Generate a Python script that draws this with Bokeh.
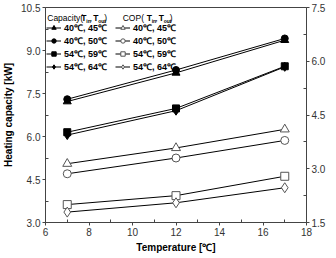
import math
from bokeh.plotting import figure
from bokeh.models import (Range1d, LinearAxis, Legend, LegendItem, FixedTicker,
                          PrintfTickFormatter, Label)
from bokeh.core.properties import value
from bokeh.embed import file_html
from bokeh.resources import INLINE

temps = [7, 12, 17]

cap_labels = ["40℃, 45℃", "40℃, 50℃", "54℃, 59℃", "54℃, 64℃"]
cap_40_45 = [7.22, 8.22, 9.36]
cap_40_50 = [7.30, 8.32, 9.42]
cap_54_59 = [6.15, 6.98, 8.45]
cap_54_64 = [6.05, 6.90, 8.43]

cop_40_45 = [3.14, 3.58, 4.10]
cop_40_50 = [2.86, 3.30, 3.79]
cop_54_59 = [2.00, 2.25, 2.79]
cop_54_64 = [1.79, 2.05, 2.47]

x_ticks = [6, 8, 10, 12, 14, 16, 18]
cap_ticks = [3.0, 4.5, 6.0, 7.5, 9.0, 10.5]
cop_ticks = [1.5, 3.0, 4.5, 6.0, 7.5]

FONT = "Liberation Sans"
AX = "#444444"

p = figure(width=336, height=258, output_backend="svg", toolbar_location=None,
           x_range=Range1d(6, 18), y_range=Range1d(3.0, 10.5),
           min_border_left=40, min_border_right=30, min_border_top=7, min_border_bottom=36)
p.border_fill_color = "white"
p.outline_line_color = AX
p.outline_line_width = 1
p.grid.visible = False
p.extra_y_ranges = {"cop": Range1d(1.5, 7.5)}

def style_axis(ax):
    ax.axis_line_color = AX
    ax.major_tick_line_color = AX
    ax.minor_tick_line_color = AX
    ax.major_tick_out = 3
    ax.major_tick_in = 0
    ax.minor_tick_in = 3
    ax.minor_tick_out = 0
    ax.major_label_text_font = FONT
    ax.major_label_text_font_size = "10px"
    ax.major_label_text_color = "#333333"
    ax.axis_label_text_font = FONT
    ax.axis_label_text_font_size = "10px"
    ax.axis_label_text_font_style = "bold"
    ax.axis_label_text_color = "black"

xa = p.xaxis[0]
xa.ticker = FixedTicker(ticks=x_ticks, minor_ticks=[7, 9, 11, 13, 15, 17])
xa.axis_label = "Temperature [℃]"
style_axis(xa)
xa.major_label_standoff = 2
xa.axis_label_standoff = 3

ya = p.yaxis[0]
ya.ticker = FixedTicker(ticks=cap_ticks, minor_ticks=[3.75, 5.25, 6.75, 8.25, 9.75])
ya.axis_label = "Heating capacity [kW]"
ya.formatter = PrintfTickFormatter(format="%.1f")
style_axis(ya)
ya.major_label_standoff = 2
ya.axis_label_standoff = 4

ra = LinearAxis(y_range_name="cop",
                ticker=FixedTicker(ticks=cop_ticks, minor_ticks=[2.25, 3.75, 5.25, 6.75]),
                formatter=PrintfTickFormatter(format="%.1f"))
style_axis(ra)
ra.major_label_standoff = 2
p.add_layout(ra, "right")

# right axis title, placed like the reference (upper part, reading downward)
p.add_layout(Label(x=18, y=7.4, text="COP", angle=-math.pi / 2, x_offset=21,
                   text_font=FONT, text_font_size="10px", text_font_style="bold",
                   text_align="center", text_baseline="middle", text_color="black"))

cap_series = [cap_40_45, cap_40_50, cap_54_59, cap_54_64]
cop_series = [cop_40_45, cop_40_50, cop_54_59, cop_54_64]
markers = ["triangle", "circle", "square", "diamond"]
fsizes = [8, 7, 7, 9]
osizes = [9, 8, 8, 10]

cap_items, cop_items = [], []
for vals, m, s, lab in zip(cap_series, markers, fsizes, cap_labels):
    l = p.line(temps, vals, line_color="black", line_width=1)
    r = p.scatter(temps, vals, marker=m, size=s, fill_color="black", line_color="black")
    cap_items.append(LegendItem(label=lab, renderers=[l, r]))
for vals, m, s, lab in zip(cop_series, markers, osizes, cap_labels):
    l = p.line(temps, vals, line_color="black", line_width=1, y_range_name="cop")
    r = p.scatter(temps, vals, marker=m, size=s, fill_color="white", line_color="#555555",
                  y_range_name="cop")
    cop_items.append(LegendItem(label=lab, renderers=[l, r]))

leg = Legend(items=cap_items + cop_items, location=(1, 149), nrows=4,
             orientation="vertical", padding=0, margin=0, spacing=0,
             glyph_width=15, glyph_height=11, label_height=11, label_width=51,
             label_standoff=3, border_line_alpha=0, background_fill_alpha=0,
             label_text_font=FONT, label_text_font_size="9px",
             label_text_font_style="bold", label_text_color="black")
p.add_layout(leg)

# legend column headers (with subscripts)
def header(x0, parts):
    for txt, dx, size, style, dy in parts:
        p.text(x=[x0], y=[10.13], text=[txt], x_offset=dx, y_offset=dy,
               text_font=value(FONT), text_font_size=size, text_font_style=style,
               text_baseline="middle", text_align="left", text_color="black")

header(6.08, [("Capacity(", 0, "8.5px", "normal", 0),
              ("T", 34, "8.5px", "bold", 0),
              ("in", 39, "5px", "bold", 3),
              (",", 42.5, "8.5px", "normal", 0),
              ("T", 46, "8.5px", "bold", 0),
              ("out", 51, "5px", "bold", 3),
              (")", 57, "8.5px", "normal", 0)])
header(9.55, [("COP(", 0, "8.5px", "normal", 0),
              ("T", 24, "8.5px", "bold", 0),
              ("in", 29, "5px", "bold", 3),
              (",", 32.5, "8.5px", "normal", 0),
              ("T", 36, "8.5px", "bold", 0),
              ("out", 41, "5px", "bold", 3),
              (")", 47, "8.5px", "normal", 0)])

open("out.html", "w").write(file_html(p, INLINE))
